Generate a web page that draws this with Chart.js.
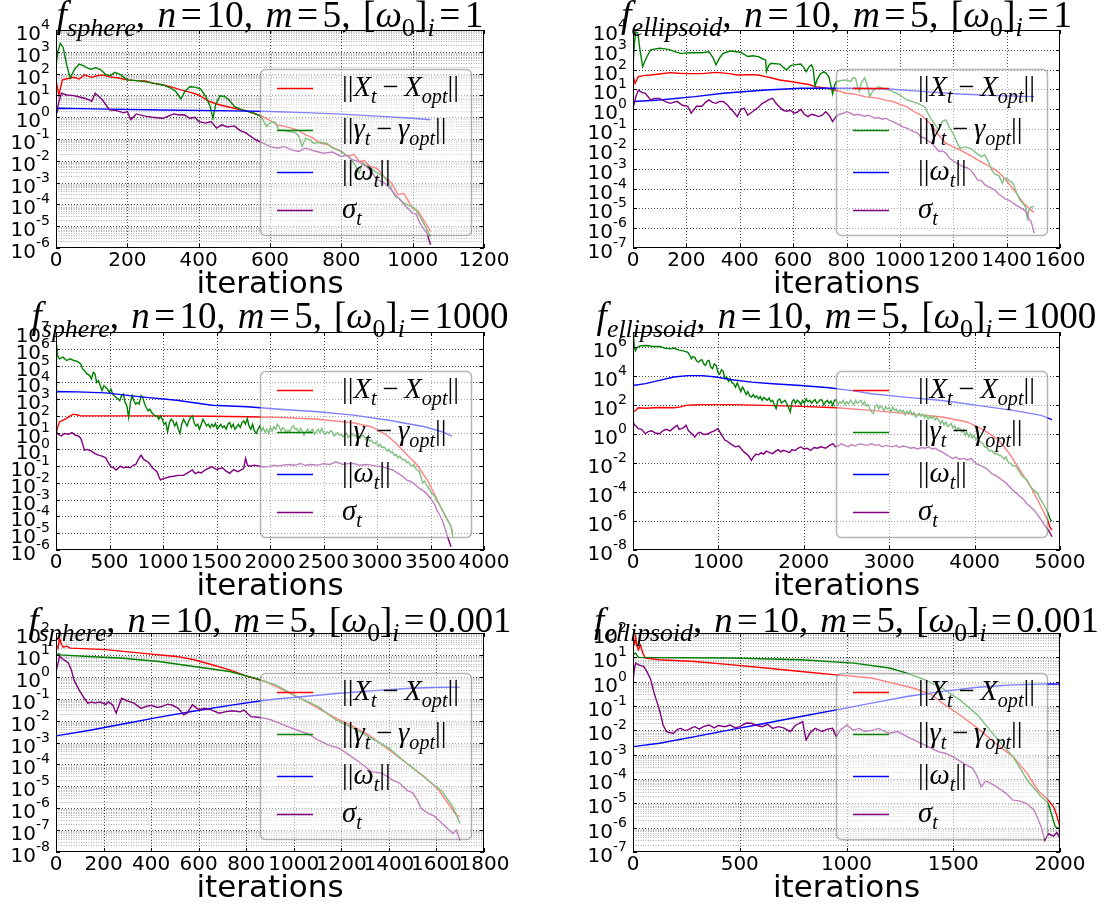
<!DOCTYPE html>
<html><head><meta charset="utf-8">
<script src="https://cdn.jsdelivr.net/npm/chart.js"></script>
<style>
html,body{margin:0;padding:0;background:#fff;}
#wrap{position:relative;width:1108px;height:906px;overflow:hidden;background:#fff;}
canvas{position:absolute;left:0;top:0;}
</style></head>
<body><div id="wrap"></div>
<script>
// ---------- DATA: [iteration, log10(value)] ----------
// Panel 1: f_sphere, w0=1
const p1X=[[0,1.71],[8,1.02],[18,1.71],[50,1.83],[65,1.75],[80,1.94],[100,1.83],[115,1.9],[130,1.94],[150,1.85],[175,1.8],[200,1.71],[225,1.68],[250,1.66],[275,1.55],[300,1.48],[325,1.38],[350,1.25],[375,1.15],[400,1.02],[430,0.72],[460,0.56],[500,0.41],[540,0.26],[580,0.03],[600,-0.15],[620,-0.35],[640,-0.42],[660,-0.5],[680,-0.6],[700,-0.81],[720,-0.95],[740,-1.19],[760,-1.25],[780,-1.42],[800,-1.55],[820,-1.8],[835,-1.7],[850,-2.03],[865,-2.0],[880,-2.26],[900,-2.35],[920,-2.72],[940,-3.0],[960,-3.56],[975,-3.5],[990,-3.9],[1000,-4.17],[1015,-4.3],[1030,-4.7],[1050,-5.24]];
const p1G=[[0,2.32],[5,3.0],[12,3.39],[20,3.2],[30,2.4],[40,1.79],[52,2.2],[65,2.44],[78,2.35],[90,2.24],[100,2.2],[110,2.27],[125,2.18],[140,1.95],[152,1.9],[165,2.06],[180,1.95],[200,1.71],[225,1.68],[250,1.63],[275,1.55],[300,1.48],[320,1.35],[335,1.2],[350,0.84],[362,1.2],[375,1.4],[390,1.38],[405,1.3],[420,0.95],[432,0.5],[440,-0.05],[448,0.6],[460,0.98],[472,0.95],[485,0.8],[500,0.49],[520,0.35],[540,0.26],[560,0.15],[575,0.03],[590,-0.43],[605,-0.2],[615,-0.25],[625,-0.58],[640,-0.6],[655,-0.66],[670,-0.7],[680,-0.85],[690,-1.34],[700,-0.96],[712,-1.05],[722,-1.19],[740,-1.15],[760,-1.2],[775,-1.42],[790,-1.5],[805,-1.65],[820,-1.8],[835,-2.1],[850,-2.56],[860,-2.1],[880,-2.3],[900,-2.55],[920,-2.72],[935,-3.1],[950,-3.63],[960,-3.7],[975,-3.94],[990,-4.05],[1005,-4.17],[1020,-4.55],[1035,-5.0],[1050,-5.47]];
const p1W=[[0,0.1],[6,0.41],[100,0.38],[300,0.33],[500,0.29],[600,0.26],[700,0.21],[800,0.14],[900,0.05],[1000,-0.05],[1050,-0.12]];
const p1S=[[0,0.1],[8,0.7],[15,1.1],[30,1.02],[45,1.0],[60,0.95],[80,0.87],[95,0.78],[100,0.72],[110,1.1],[120,0.95],[130,0.8],[150,0.34],[170,0.3],[190,0.2],[200,0.26],[210,-0.12],[225,0.15],[250,0.05],[270,0.0],[300,-0.05],[315,0.05],[330,0.15],[345,0.1],[360,0.11],[375,-0.05],[390,0.0],[400,-0.2],[420,-0.27],[435,-0.2],[450,-0.5],[465,-0.35],[480,-0.45],[500,-0.4],[515,-0.6],[530,-0.7],[560,-1.04],[580,-1.19],[600,-1.34],[620,-1.42],[640,-1.34],[660,-1.5],[680,-1.57],[700,-1.42],[725,-1.55],[750,-1.65],[775,-1.6],[800,-1.8],[815,-1.75],[830,-1.95],[850,-2.05],[870,-2.26],[885,-2.5],[900,-2.87],[920,-3.0],[940,-3.33],[960,-3.7],[980,-4.09],[1000,-4.4],[1010,-4.45],[1020,-4.85],[1030,-5.1],[1040,-5.31],[1050,-5.85]];
// Panel 2: f_ellipsoid, w0=1
const p2X=[[0,1.73],[8,1.3],[20,1.65],[40,1.7],[66,1.73],[99,1.78],[139,1.85],[170,1.82],[205,1.8],[258,1.8],[300,1.85],[325,1.85],[360,1.8],[391,1.73],[430,1.75],[470,1.73],[497,1.65],[520,1.58],[550,1.48],[590,1.4],[629,1.31],[660,1.25],[682,1.14],[720,1.08],[748,1.0],[775,0.9],[801,0.81],[835,0.75],[868,0.64],[895,0.6],[920,0.55],[950,0.45],[974,0.39],[1000,0.25],[1026,0.13],[1050,-0.1],[1079,-0.29],[1100,-0.55],[1119,-0.79],[1145,-1.3],[1172,-1.71],[1200,-1.9],[1225,-2.05],[1260,-2.3],[1291,-2.55],[1325,-2.8],[1358,-3.06],[1380,-3.3],[1397,-3.56],[1420,-3.95],[1437,-4.24],[1450,-4.5],[1464,-4.74],[1480,-4.95],[1490,-5.08],[1503,-5.2]];
const p2G=[[0,2.15],[5,3.3],[10,3.9],[18,3.85],[25,3.1],[36,2.15],[50,2.6],[66,3.0],[100,3.08],[120,3.05],[139,3.0],[160,2.9],[179,2.82],[220,2.85],[258,2.85],[285,2.9],[300,2.6],[311,2.24],[325,2.6],[338,2.82],[364,2.94],[404,2.88],[430,2.66],[450,2.7],[470,2.66],[485,2.55],[497,2.49],[500,1.9],[508,2.2],[517,2.32],[550,2.28],[565,2.1],[576,1.98],[590,2.2],[603,2.24],[629,2.28],[640,2.1],[649,1.9],[660,2.15],[669,2.24],[675,2.05],[682,1.18],[690,1.5],[702,1.78],[715,1.9],[725,1.8],[735,1.6],[748,0.77],[755,1.2],[762,1.39],[780,1.45],[801,1.48],[815,1.4],[825,1.6],[834,1.56],[842,1.1],[848,0.9],[855,1.3],[868,1.6],[878,1.2],[887,0.64],[900,0.95],[920,1.14],[940,1.05],[960,0.97],[980,0.85],[1000,0.72],[1026,0.47],[1045,0.4],[1066,0.3],[1093,0.13],[1105,-0.2],[1119,-0.54],[1133,-0.8],[1146,-1.04],[1160,-0.6],[1172,-0.54],[1185,-0.9],[1199,-1.21],[1212,-1.6],[1225,-1.97],[1245,-1.9],[1265,-1.97],[1285,-2.2],[1305,-2.39],[1318,-2.3],[1330,-2.6],[1344,-3.06],[1358,-3.3],[1371,-3.35],[1384,-3.73],[1390,-3.5],[1397,-3.48],[1410,-3.6],[1424,-3.73],[1437,-4.2],[1450,-4.57],[1460,-4.75],[1470,-4.9],[1477,-5.5],[1483,-5.1],[1490,-4.95],[1503,-4.9]];
const p2W=[[0,0.39],[99,0.47],[232,0.64],[338,0.81],[497,0.97],[629,1.06],[735,1.06],[828,1.06],[960,1.02],[1093,0.89],[1225,0.77],[1358,0.69],[1503,0.64]];
const p2S=[[0,0.05],[10,0.6],[20,0.97],[33,0.85],[46,0.8],[66,0.47],[80,0.55],[99,0.55],[120,0.4],[139,0.3],[165,0.4],[185,0.2],[205,0.15],[218,-0.2],[238,0.15],[258,0.15],[272,0.35],[285,0.47],[298,0.35],[311,0.3],[325,0.4],[338,0.39],[355,0.2],[364,0.05],[378,-0.15],[391,-0.37],[404,0.0],[417,0.05],[430,-0.3],[445,-0.15],[470,0.1],[485,0.3],[497,0.39],[510,0.5],[523,0.55],[536,0.3],[550,0.1],[563,-0.05],[576,-0.1],[590,-0.05],[603,-0.2],[615,-0.15],[629,0.0],[642,-0.25],[656,-0.37],[669,-0.25],[682,-0.3],[695,-0.37],[709,-0.3],[722,-0.12],[735,-0.3],[748,-0.62],[762,-0.35],[775,-0.25],[788,-0.2],[801,-0.12],[815,-0.2],[828,-0.3],[841,-0.25],[855,-0.3],[868,-0.35],[881,-0.3],[894,-0.37],[907,-0.45],[920,-0.42],[934,-0.5],[947,-0.45],[960,-0.55],[974,-0.62],[987,-0.71],[1000,-0.8],[1013,-0.9],[1026,-0.95],[1040,-1.05],[1053,-1.13],[1066,-1.2],[1079,-1.4],[1093,-1.45],[1106,-1.6],[1119,-1.71],[1132,-1.9],[1146,-2.13],[1159,-2.1],[1172,-2.2],[1185,-2.45],[1199,-2.6],[1212,-2.72],[1225,-2.8],[1238,-2.9],[1252,-2.95],[1265,-3.06],[1278,-3.3],[1291,-3.56],[1305,-3.6],[1318,-3.8],[1331,-3.9],[1344,-3.98],[1358,-4.1],[1371,-4.3],[1384,-4.4],[1397,-4.55],[1411,-4.6],[1424,-4.74],[1437,-4.85],[1450,-4.95],[1464,-5.08],[1477,-5.2],[1484,-5.58],[1490,-5.6],[1497,-5.9],[1503,-6.25]];
// Panel 3: f_sphere, w0=1000
const p3X=[[0,0.95],[15,1.3],[33,1.64],[66,1.75],[99,1.85],[132,2.0],[165,2.1],[199,2.05],[232,2.0],[600,2.0],[1000,2.0],[1457,1.98],[1788,1.95],[2119,1.9],[2450,1.8],[2781,1.58],[2947,1.35],[3079,0.9],[3180,0.35],[3278,-0.3],[3377,-0.95],[3477,-1.9],[3543,-2.75],[3600,-3.5],[3650,-4.1],[3692,-4.6],[3709,-5.0]];
const p3G=[[0,0.0],[3,5.0],[6,6.3],[15,5.6],[33,5.4],[66,5.5],[99,5.3],[132,5.4],[166,5.3],[199,5.25],[232,5.1],[248,4.8],[265,4.7],[290,4.5],[315,4.4],[331,4.2],[348,4.6],[364,4.5],[380,4.0],[397,4.1],[414,3.8],[430,3.5],[447,3.8],[464,3.7],[480,3.6],[497,3.4],[513,3.6],[530,3.3],[546,3.2],[563,3.1],[580,3.0],[596,2.9],[612,3.2],[629,3.3],[646,2.8],[662,2.6],[679,1.9],[695,2.8],[712,3.2],[728,2.9],[745,2.7],[762,2.8],[778,2.7],[795,3.2],[811,3.1],[828,2.7],[844,2.5],[861,2.3],[877,2.4],[894,2.2],[910,2.1],[927,2.0],[944,2.0],[960,1.8],[977,2.0],[993,1.8],[1010,1.5],[1026,1.6],[1043,1.05],[1060,1.6],[1076,1.8],[1093,1.7],[1109,1.4],[1126,1.6],[1143,1.2],[1159,0.95],[1175,1.5],[1192,1.8],[1209,1.6],[1225,1.4],[1242,1.7],[1258,1.9],[1275,2.0],[1291,1.6],[1308,1.4],[1325,1.5],[1341,1.2],[1358,1.5],[1374,1.8],[1391,1.6],[1407,1.4],[1424,1.5],[1440,1.3],[1457,1.5],[1474,1.35],[1490,1.55],[1507,1.2],[1523,1.35],[1540,1.5],[1556,1.3],[1573,1.4],[1590,1.2],[1606,1.5],[1623,1.6],[1639,1.3],[1656,1.5],[1672,1.2],[1689,1.35],[1705,1.5],[1722,1.3],[1738,1.6],[1755,1.7],[1771,1.5],[1788,1.84],[1804,1.4],[1821,1.2],[1838,1.5],[1854,1.1],[1871,0.95],[1888,1.2],[1904,1.4],[1921,1.1],[1937,1.3],[1954,1.0],[1970,1.2],[1987,0.95],[2003,1.3],[2020,1.1],[2036,1.35],[2053,1.2],[2070,1.5],[2086,1.35],[2103,1.1],[2119,1.3],[2136,1.2],[2152,1.0],[2169,1.15],[2185,1.05],[2202,1.3],[2218,1.4],[2235,1.2],[2251,1.25],[2268,1.0],[2285,1.25],[2301,1.1],[2318,0.85],[2334,1.05],[2351,1.2],[2367,1.0],[2384,1.1],[2400,1.2],[2417,0.9],[2433,1.05],[2450,1.2],[2466,1.0],[2483,1.25],[2500,1.0],[2516,0.9],[2533,1.05],[2549,0.95],[2566,1.1],[2583,1.05],[2599,0.8],[2616,0.9],[2632,1.0],[2649,0.85],[2665,0.9],[2682,0.75],[2698,0.9],[2715,0.95],[2731,0.7],[2748,0.85],[2765,0.95],[2781,0.8],[2798,0.85],[2814,0.65],[2831,0.8],[2847,0.7],[2864,0.85],[2881,0.75],[2897,0.6],[2914,0.7],[2930,0.5],[2947,0.55],[2963,0.4],[2980,0.35],[2996,0.45],[3013,0.2],[3029,0.3],[3046,0.1],[3063,0.15],[3079,0.05],[3096,-0.1],[3112,0.0],[3129,-0.2],[3146,-0.15],[3162,-0.35],[3179,-0.3],[3195,-0.5],[3212,-0.4],[3228,-0.55],[3245,-0.64],[3261,-0.6],[3278,-0.8],[3294,-0.75],[3311,-0.9],[3328,-1.0],[3344,-0.9],[3361,-1.15],[3377,-1.23],[3394,-1.3],[3410,-1.6],[3427,-2.0],[3443,-1.9],[3460,-2.1],[3477,-2.23],[3493,-2.4],[3510,-2.6],[3526,-2.7],[3543,-2.82],[3560,-3.1],[3576,-3.2],[3593,-3.42],[3609,-3.6],[3626,-3.8],[3642,-4.0],[3659,-4.2],[3675,-4.4],[3692,-4.6],[3709,-5.2]];
const p3W=[[0,3.43],[5,3.45],[199,3.43],[464,3.37],[795,3.13],[1126,2.93],[1457,2.63],[1788,2.54],[2119,2.38],[2450,2.24],[2781,2.04],[3113,1.74],[3444,1.35],[3609,1.05],[3702,0.79]];
const p3S=[[0,1.05],[20,0.9],[50,0.8],[80,0.95],[116,0.9],[150,1.0],[180,0.85],[210,0.8],[232,0.65],[250,0.3],[265,-0.04],[290,0.0],[331,-0.1],[364,-0.25],[397,-0.34],[430,-0.4],[464,-0.5],[490,-0.8],[513,-1.03],[540,-1.1],[563,-1.23],[600,-1.0],[630,-1.1],[660,-1.05],[695,-1.1],[720,-0.95],[745,-0.9],[770,-0.6],[795,-0.34],[820,-0.6],[845,-0.7],[861,-0.75],[880,-0.9],[900,-1.1],[920,-1.2],[944,-1.33],[960,-1.6],[977,-1.83],[1000,-1.75],[1030,-1.7],[1060,-1.63],[1100,-1.6],[1140,-1.55],[1192,-1.55],[1230,-1.4],[1275,-1.23],[1300,-1.45],[1330,-1.35],[1358,-1.4],[1400,-1.2],[1457,-1.03],[1500,-1.2],[1556,-1.1],[1590,-1.3],[1623,-1.43],[1660,-1.2],[1700,-1.33],[1722,-1.25],[1755,-1.13],[1765,-0.75],[1772,-0.54],[1790,-0.95],[1820,-1.0],[1854,-0.94],[1900,-1.0],[1940,-1.05],[1987,-1.03],[2040,-0.95],[2080,-1.0],[2119,-0.94],[2180,-0.9],[2230,-0.95],[2285,-0.84],[2330,-0.95],[2380,-0.9],[2450,-0.94],[2500,-0.85],[2560,-0.9],[2616,-0.74],[2680,-0.9],[2730,-0.85],[2781,-0.84],[2840,-0.95],[2900,-0.9],[2947,-0.94],[3000,-1.0],[3046,-1.03],[3100,-1.15],[3146,-1.23],[3200,-1.45],[3240,-1.6],[3278,-1.83],[3310,-1.9],[3344,-2.03],[3390,-2.3],[3444,-2.52],[3480,-2.75],[3510,-3.02],[3540,-3.3],[3560,-3.62],[3585,-3.9],[3609,-4.21],[3630,-4.6],[3649,-5.0],[3670,-5.4],[3692,-5.8]];
// Panel 4: f_ellipsoid, w0=1000
const p4X=[[0,1.49],[30,1.6],[62,1.79],[150,1.75],[300,1.8],[476,1.79],[560,1.85],[621,1.95],[700,1.98],[807,2.0],[1138,2.0],[1552,1.95],[1966,1.88],[2380,1.79],[2794,1.61],[3208,1.38],[3621,1.15],[3911,0.81],[4118,0.23],[4284,-0.45],[4408,-1.37],[4532,-2.51],[4657,-3.66],[4760,-4.8],[4863,-6.06],[4880,-6.4],[4905,-6.63]];
const p4G=[[0,1.5],[4,6.87],[15,6.0],[29,5.72],[45,5.9],[62,6.0],[100,6.05],[166,6.07],[230,6.0],[310,6.0],[370,5.9],[435,5.84],[480,5.9],[538,5.75],[590,5.7],[642,5.6],[665,5.4],[683,5.15],[700,5.3],[724,5.25],[745,5.0],[766,4.92],[790,5.05],[807,5.1],[830,4.8],[849,4.7],[870,5.0],[890,5.05],[910,4.6],[931,4.47],[952,4.8],[973,4.7],[995,4.2],[1014,4.1],[1035,4.4],[1055,4.3],[1076,3.8],[1097,3.9],[1118,3.6],[1138,3.8],[1160,3.5],[1180,3.44],[1200,3.2],[1221,3.5],[1242,3.2],[1262,2.9],[1283,3.2],[1304,2.98],[1325,2.7],[1345,2.9],[1366,2.6],[1387,2.52],[1408,2.7],[1428,2.5],[1449,2.6],[1470,2.4],[1490,2.55],[1511,2.3],[1532,2.5],[1552,2.4],[1573,2.3],[1594,2.45],[1614,2.2],[1635,2.3],[1656,2.0],[1676,1.72],[1697,2.3],[1718,2.4],[1738,2.1],[1759,2.2],[1780,2.3],[1800,2.1],[1821,1.8],[1842,1.5],[1862,2.2],[1883,2.35],[1904,2.1],[1925,2.3],[1945,2.2],[1966,2.0],[1987,2.3],[2007,2.1],[2028,2.4],[2049,2.2],[2070,2.3],[2090,2.1],[2111,2.25],[2132,2.35],[2152,2.1],[2173,2.2],[2194,2.35],[2214,2.3],[2235,2.0],[2256,2.2],[2276,2.3],[2297,2.1],[2318,2.25],[2339,1.95],[2359,2.3],[2380,2.35],[2401,2.0],[2421,2.2],[2442,2.1],[2463,2.3],[2483,2.0],[2504,2.2],[2525,2.05],[2545,2.3],[2566,2.15],[2587,2.0],[2607,2.3],[2628,2.1],[2649,2.2],[2670,2.3],[2690,2.0],[2711,2.2],[2732,1.9],[2752,2.0],[2773,1.7],[2794,1.5],[2815,1.38],[2835,1.9],[2856,2.0],[2877,1.7],[2897,1.9],[2918,1.8],[2939,1.6],[2959,1.85],[2980,1.7],[3001,1.8],[3021,1.5],[3042,1.84],[3063,1.6],[3083,1.7],[3104,1.45],[3125,1.65],[3145,1.5],[3166,1.6],[3187,1.3],[3208,1.55],[3228,1.4],[3249,1.6],[3270,1.3],[3290,1.45],[3311,1.15],[3332,1.26],[3352,1.4],[3373,1.2],[3394,1.35],[3414,1.1],[3435,1.3],[3456,1.0],[3476,1.2],[3497,1.05],[3518,1.2],[3538,0.95],[3559,1.1],[3580,0.92],[3600,0.7],[3621,0.9],[3642,0.6],[3663,0.8],[3683,0.5],[3704,0.58],[3725,0.7],[3745,0.4],[3766,0.55],[3787,0.2],[3807,0.4],[3829,0.35],[3850,0.1],[3870,0.3],[3891,-0.1],[3911,0.1],[3932,-0.2],[3953,0.0],[3973,-0.3],[3994,-0.1],[4015,-0.4],[4036,-0.22],[4056,-0.5],[4077,-0.6],[4098,-0.7],[4118,-0.91],[4139,-0.9],[4160,-1.1],[4180,-1.2],[4201,-1.15],[4222,-1.3],[4243,-1.4],[4263,-1.35],[4284,-1.5],[4305,-1.5],[4325,-1.6],[4346,-1.75],[4367,-1.6],[4387,-1.9],[4408,-2.0],[4429,-2.1],[4449,-2.2],[4470,-2.2],[4491,-2.28],[4511,-2.5],[4532,-2.7],[4553,-2.9],[4573,-3.0],[4594,-3.1],[4615,-3.2],[4636,-3.4],[4656,-3.6],[4677,-3.8],[4698,-3.9],[4718,-4.0],[4739,-4.11],[4760,-4.4],[4780,-4.6],[4801,-4.8],[4822,-5.0],[4843,-5.26],[4863,-5.5],[4880,-5.8],[4892,-5.95],[4905,-6.0]];
const p4W=[[0,3.32],[145,3.45],[310,3.67],[476,3.9],[642,4.0],[807,4.0],[973,3.9],[1138,3.73],[1387,3.55],[1635,3.44],[1966,3.32],[2297,3.16],[2587,2.95],[2794,2.75],[3208,2.5],[3621,2.29],[4036,1.95],[4449,1.61],[4781,1.26],[4905,0.97]];
const p4S=[[0,0.81],[20,0.6],[40,0.5],[62,0.35],[100,0.3],[145,0.0],[180,0.15],[220,0.2],[260,0.05],[310,0.0],[350,0.2],[390,0.3],[435,0.2],[476,0.4],[517,0.58],[540,0.3],[570,0.35],[600,0.45],[621,0.58],[650,0.2],[690,0.0],[724,-0.22],[760,0.05],[790,0.1],[807,0.0],[840,-0.05],[880,0.0],[910,0.1],[952,0.2],[993,0.35],[1020,0.1],[1050,-0.2],[1076,-0.45],[1100,-0.5],[1138,-0.68],[1170,-0.8],[1200,-0.9],[1240,-0.85],[1262,-1.0],[1290,-1.2],[1324,-1.37],[1350,-1.5],[1387,-1.83],[1410,-1.6],[1440,-1.4],[1469,-1.45],[1500,-1.3],[1530,-1.4],[1560,-1.2],[1600,-1.3],[1635,-1.37],[1670,-1.2],[1700,-1.1],[1730,-1.25],[1759,-1.14],[1790,-1.2],[1830,-1.3],[1860,-1.1],[1900,-1.15],[1930,-1.0],[1966,-0.91],[2000,-1.05],[2040,-1.0],[2080,-1.15],[2120,-0.95],[2160,-1.0],[2200,-0.9],[2256,-1.0],[2290,-0.85],[2339,-0.68],[2370,-0.9],[2400,-0.85],[2440,-0.7],[2480,-0.8],[2520,-0.9],[2560,-0.75],[2600,-0.85],[2650,-0.7],[2700,-0.75],[2750,-0.8],[2794,-0.68],[2840,-0.8],[2880,-0.75],[2920,-0.9],[2960,-0.8],[3000,-0.85],[3040,-0.9],[3080,-0.8],[3120,-0.95],[3160,-0.85],[3208,-0.9],[3250,-1.0],[3290,-0.95],[3330,-1.05],[3380,-0.95],[3420,-1.0],[3460,-0.9],[3500,-1.05],[3539,-1.0],[3580,-1.15],[3621,-1.25],[3660,-1.4],[3700,-1.55],[3746,-1.71],[3780,-1.6],[3820,-1.75],[3870,-1.7],[3920,-1.8],[3960,-1.7],[3994,-1.94],[4030,-2.1],[4070,-2.2],[4110,-2.3],[4150,-2.45],[4201,-2.74],[4240,-2.85],[4280,-3.0],[4325,-3.2],[4370,-3.4],[4410,-3.65],[4449,-3.89],[4490,-4.1],[4530,-4.3],[4574,-4.52],[4610,-4.8],[4650,-5.0],[4698,-5.26],[4740,-5.6],[4781,-5.95],[4820,-6.3],[4863,-6.63],[4890,-6.9],[4905,-7.09]];
// Panel 5: f_sphere, w0=0.001
const p5X=[[0,1.47],[8,1.3],[15,1.77],[22,1.5],[30,1.35],[45,1.4],[60,1.31],[209,1.24],[358,1.08],[507,0.93],[581,0.78],[656,0.55],[730,0.32],[805,0.02],[879,-0.21],[954,-0.6],[1028,-0.98],[1103,-1.44],[1177,-1.89],[1252,-2.27],[1326,-2.73],[1401,-3.34],[1475,-3.95],[1550,-4.56],[1610,-5.18],[1654,-5.86],[1684,-6.32],[1699,-6.37]];
const p5G=[[0,1.0],[10,1.05],[20,1.0],[134,0.93],[283,0.85],[432,0.7],[581,0.47],[730,0.24],[835,-0.06],[924,-0.37],[1013,-0.9],[1103,-1.36],[1177,-1.97],[1252,-2.35],[1326,-2.8],[1401,-3.27],[1475,-3.95],[1550,-4.6],[1625,-5.25],[1669,-5.94],[1699,-6.7]];
const p5W=[[0,-2.7],[149,-2.43],[298,-2.12],[447,-1.82],[596,-1.54],[745,-1.28],[894,-1.05],[1043,-0.9],[1192,-0.75],[1341,-0.63],[1490,-0.52],[1580,-0.49],[1699,-0.47]];
const p5S=[[0,0.24],[8,0.6],[15,0.93],[30,0.8],[52,0.63],[65,0.3],[75,-0.14],[97,-0.6],[119,-0.98],[134,-1.2],[150,-1.15],[164,-1.2],[185,-1.15],[209,-1.26],[220,-1.15],[238,-1.28],[253,-1.66],[265,-1.3],[276,-0.98],[300,-1.1],[328,-1.2],[358,-1.44],[380,-1.35],[402,-1.3],[425,-1.4],[447,-1.35],[470,-1.25],[490,-1.3],[514,-1.44],[537,-1.74],[552,-1.65],[574,-1.28],[600,-1.5],[626,-1.44],[650,-1.5],[686,-1.66],[710,-1.6],[740,-1.55],[775,-1.6],[790,-1.52],[820,-1.82],[850,-1.85],[879,-1.9],[900,-1.95],[924,-2.05],[970,-2.25],[1013,-2.43],[1058,-2.6],[1103,-2.89],[1147,-3.12],[1192,-3.27],[1237,-3.6],[1282,-3.95],[1326,-4.33],[1371,-4.4],[1416,-4.72],[1445,-4.85],[1475,-5.18],[1500,-5.3],[1520,-5.63],[1535,-6.0],[1565,-6.24],[1590,-6.35],[1610,-6.55],[1640,-6.86],[1669,-7.16],[1684,-7.0],[1699,-7.47]];
// Panel 6: f_ellipsoid, w0=0.001
const p6X=[[0,1.73],[8,1.55],[12,1.87],[18,1.5],[25,1.31],[35,1.5],[45,1.2],[58,0.97],[124,0.9],[290,0.83],[455,0.7],[621,0.56],[786,0.42],[952,0.28],[1118,0.15],[1217,-0.06],[1316,-0.27],[1399,-0.54],[1449,-0.88],[1531,-1.37],[1614,-1.91],[1697,-2.53],[1780,-3.08],[1846,-3.77],[1896,-4.46],[1945,-4.87],[1970,-5.14],[1985,-5.5],[2000,-5.97]];
const p6G=[[0,1.1],[12,1.18],[25,1.0],[124,0.99],[455,0.97],[786,0.9],[1035,0.76],[1201,0.56],[1283,0.35],[1366,0.08],[1449,-0.27],[1531,-0.75],[1614,-1.37],[1697,-2.26],[1780,-3.08],[1846,-4.04],[1912,-4.73],[1945,-5.0],[1978,-5.97],[2000,-6.04]];
const p6W=[[0,-2.67],[124,-2.53],[290,-2.26],[455,-1.98],[621,-1.71],[786,-1.43],[952,-1.16],[1118,-0.88],[1283,-0.61],[1449,-0.4],[1614,-0.23],[1780,-0.13],[1945,-0.09],[2000,-0.1]];
const p6S=[[0,0.0],[6,0.5],[12,0.76],[25,0.7],[40,0.65],[50,0.63],[66,0.4],[83,0.08],[99,-0.47],[124,-1.16],[141,-1.78],[157,-2.05],[175,-2.1],[190,-2.12],[210,-1.95],[224,-1.92],[240,-2.0],[257,-1.98],[275,-1.9],[290,-1.85],[310,-1.95],[330,-1.85],[356,-1.78],[380,-1.9],[400,-1.8],[430,-1.85],[455,-1.78],[480,-1.9],[500,-1.85],[530,-1.7],[555,-1.71],[580,-1.8],[605,-1.85],[630,-1.75],[654,-1.92],[680,-1.85],[705,-1.9],[737,-2.05],[760,-1.8],[795,-1.64],[802,-2.0],[811,-2.4],[830,-2.1],[853,-1.92],[886,-2.05],[910,-1.95],[935,-1.92],[952,-2.26],[970,-2.0],[1002,-1.78],[1030,-2.0],[1060,-1.92],[1084,-2.05],[1120,-2.0],[1151,-1.92],[1180,-2.05],[1200,-2.12],[1240,-2.05],[1283,-2.26],[1330,-2.45],[1382,-2.67],[1432,-2.88],[1465,-2.95],[1498,-3.08],[1520,-3.2],[1548,-3.36],[1590,-3.55],[1610,-3.85],[1631,-4.32],[1650,-4.1],[1664,-4.12],[1700,-4.3],[1747,-4.59],[1780,-4.87],[1810,-4.9],[1846,-5.02],[1879,-5.28],[1895,-5.6],[1912,-5.97],[1929,-6.52],[1945,-6.25],[1970,-6.35],[1985,-6.2],[2000,-6.45]];

// tick values
const p1XTicks=[0,200,400,600,800,1000,1200], p1YTicks=[-6,-5,-4,-3,-2,-1,0,1,2,3,4];
const p2XTicks=[0,200,400,600,800,1000,1200,1400,1600], p2YTicks=[-7,-6,-5,-4,-3,-2,-1,0,1,2,3,4];
const p3XTicks=[0,500,1000,1500,2000,2500,3000,3500,4000], p3YTicks=[-6,-5,-4,-3,-2,-1,0,1,2,3,4,5,6,7];
const p4XTicks=[0,1000,2000,3000,4000,5000], p4YTicks=[-8,-6,-4,-2,0,2,4,6];
const p5XTicks=[0,200,400,600,800,1000,1200,1400,1600,1800], p5YTicks=[-8,-7,-6,-5,-4,-3,-2,-1,0,1,2];
const p6XTicks=[0,500,1000,1500,2000], p6YTicks=[-7,-6,-5,-4,-3,-2,-1,0,1,2];

// ---------- STYLE / LAYOUT ----------
const COLORS=['#ff0000','#008000','#0000ff','#800080'];
const panels=[
 {rect:[56,30,484,248],xMax:1200,yMin:-6,yMax:4,xT:p1XTicks,yT:p1YTicks,minor:true,f:'sphere',w0:'1',tw:427,ty:27,s:[p1X,p1G,p1W,p1S]},
 {rect:[633,30,1060,248],xMax:1600,yMin:-7,yMax:4,xT:p2XTicks,yT:p2YTicks,minor:false,f:'ellipsoid',w0:'1',tw:451,ty:27,s:[p2X,p2G,p2W,p2S]},
 {rect:[56,332,484,550],xMax:4000,yMin:-6,yMax:7,xT:p3XTicks,yT:p3YTicks,minor:false,f:'sphere',w0:'1000',tw:477,ty:328,s:[p3X,p3G,p3W,p3S]},
 {rect:[633,332,1060,550],xMax:5000,yMin:-8,yMax:7,xT:p4XTicks,yT:p4YTicks,minor:false,f:'ellipsoid',w0:'1000',tw:500,ty:328,s:[p4X,p4G,p4W,p4S]},
 {rect:[56,633,484,852],xMax:1800,yMin:-8,yMax:2,xT:p5XTicks,yT:p5YTicks,minor:true,f:'sphere',w0:'0.001',tw:483,ty:632,s:[p5X,p5G,p5W,p5S]},
 {rect:[633,633,1060,852],xMax:2000,yMin:-7,yMax:2,xT:p6XTicks,yT:p6YTicks,minor:true,f:'ellipsoid',w0:'0.001',tw:505,ty:632,s:[p6X,p6G,p6W,p6S]}
];
const CW=1108, CH=906;
const SERIF='"Liberation Serif","DejaVu Serif",serif';
const SANS='"DejaVu Sans",sans-serif';

function richWidth(ctx,parts,size){
  let w=0;
  for(const p of parts){
    if(p.gap!==undefined){w+=p.gap*size;continue;}
    const sz=p.sub?size*0.7:size;
    ctx.font=(p.i?'italic ':'')+sz+'px '+SERIF;
    w+=ctx.measureText(p.t).width;
  }
  return w;
}
function drawRich(ctx,parts,x,y,size){
  let cx=x;
  for(const p of parts){
    if(p.gap!==undefined){cx+=p.gap*size;continue;}
    const sz=p.sub?size*0.7:size;
    ctx.font=(p.i?'italic ':'')+sz+'px '+SERIF;
    ctx.fillText(p.t,cx,y+(p.sub?size*0.25:0));
    cx+=ctx.measureText(p.t).width;
  }
}
function titleParts(f,w0){
  return [{t:'f',i:1},{t:f,i:1,sub:1},{t:','},{gap:0.33},{t:'n',i:1},{gap:0.12},{t:'='},{gap:0.12},{t:'10'},{t:','},{gap:0.33},{t:'m',i:1},{gap:0.12},{t:'='},{gap:0.12},{t:'5'},{t:','},{gap:0.33},{t:'['},{t:'ω',i:1},{t:'0',sub:1},{t:']'},{t:'i',i:1,sub:1},{gap:0.12},{t:'='},{gap:0.12},{t:w0}];
}
const LEG=[
 [{t:'||'},{t:'X',i:1},{t:'t',i:1,sub:1},{gap:0.2},{t:'−'},{gap:0.2},{t:'X',i:1},{t:'opt',i:1,sub:1},{t:'||'}],
 [{t:'||'},{t:'γ',i:1},{t:'t',i:1,sub:1},{gap:0.2},{t:'−'},{gap:0.2},{t:'γ',i:1},{t:'opt',i:1,sub:1},{t:'||'}],
 [{t:'||'},{t:'ω',i:1},{t:'t',i:1,sub:1},{t:'||'}],
 [{t:'σ',i:1},{t:'t',i:1,sub:1}]
];
const LEG_ROWS=[19,61,103,141];

function makePlugin(P){
  return {
    id:'panelDeco',
    beforeDatasetsDraw(chart){
      const ctx=chart.ctx, a=chart.chartArea, xs=chart.scales.x, ys=chart.scales.y;
      ctx.save();
      ctx.beginPath();ctx.rect(a.left,a.top,a.right-a.left,a.bottom-a.top);ctx.clip();
      ctx.lineWidth=1;
      if(P.minor){
        ctx.setLineDash([1,1.5]);ctx.strokeStyle='rgba(0,0,0,0.32)';
        for(let e=P.yMin;e<P.yMax;e++){
          for(let k=2;k<=9;k++){
            const y=Math.round(ys.getPixelForValue(k*Math.pow(10,e)))+0.5;
            ctx.beginPath();ctx.moveTo(a.left,y);ctx.lineTo(a.right,y);ctx.stroke();
          }
        }
      }
      ctx.setLineDash([1,2]);ctx.strokeStyle='rgba(0,0,0,0.7)';
      for(const e of P.yT){
        const y=Math.round(ys.getPixelForValue(Math.pow(10,e)))+0.5;
        ctx.beginPath();ctx.moveTo(a.left,y);ctx.lineTo(a.right,y);ctx.stroke();
      }
      for(const v of P.xT){
        const x=Math.round(xs.getPixelForValue(v))+0.5;
        ctx.beginPath();ctx.moveTo(x,a.top);ctx.lineTo(x,a.bottom);ctx.stroke();
      }
      ctx.restore();
    },
    afterDatasetsDraw(chart){
      const ctx=chart.ctx, a=chart.chartArea, xs=chart.scales.x, ys=chart.scales.y;
      ctx.save();
      // legend
      const bw=211,bh=166,bx=a.right-13-bw,by=a.bottom-13-bh;
      ctx.beginPath();
      if(ctx.roundRect) ctx.roundRect(bx+0.5,by+0.5,bw,bh,5); else ctx.rect(bx+0.5,by+0.5,bw,bh);
      ctx.fillStyle='rgba(255,255,255,0.5)';ctx.fill();
      ctx.strokeStyle='rgba(120,120,120,0.55)';ctx.lineWidth=1.5;ctx.stroke();
      // legend font size scaled to reference width of first label
      const base=22, lsz=base*117/richWidth(ctx,LEG[0],base);
      ctx.fillStyle='#000';ctx.textAlign='left';ctx.textBaseline='alphabetic';
      for(let i=0;i<4;i++){
        const ry=by+LEG_ROWS[i];
        ctx.strokeStyle=COLORS[i];ctx.lineWidth=1.6;
        ctx.beginPath();ctx.moveTo(bx+17,ry+0.5);ctx.lineTo(bx+53,ry+0.5);ctx.stroke();
        ctx.fillStyle='#000';
        drawRich(ctx,LEG[i],bx+82,ry+8,lsz);
      }
      // spines
      ctx.strokeStyle='#000';ctx.lineWidth=1;
      ctx.strokeRect(Math.round(a.left)+0.5,Math.round(a.top)+0.5,Math.round(a.right-a.left)-1,Math.round(a.bottom-a.top)-1);
      // ticks (inward)
      ctx.beginPath();
      for(const v of P.xT){
        const x=Math.round(xs.getPixelForValue(v))+0.5;
        ctx.moveTo(x,a.bottom);ctx.lineTo(x,a.bottom-4);ctx.moveTo(x,a.top);ctx.lineTo(x,a.top+4);
      }
      for(const e of P.yT){
        const y=Math.round(ys.getPixelForValue(Math.pow(10,e)))+0.5;
        ctx.moveTo(a.left,y);ctx.lineTo(a.left+4,y);ctx.moveTo(a.right,y);ctx.lineTo(a.right-4,y);
      }
      ctx.stroke();
      // y tick labels
      ctx.fillStyle='#000';ctx.textAlign='right';
      for(const e of P.yT){
        const y=ys.getPixelForValue(Math.pow(10,e));
        const es=String(e);
        ctx.font='14px '+SANS;const we=ctx.measureText(es).width;
        ctx.fillText(es,a.left-6,y-1);
        ctx.font='20px '+SANS;ctx.fillText('10',a.left-6-we,y+10);
      }
      // x tick labels
      ctx.textAlign='center';ctx.font='20px '+SANS;
      for(const v of P.xT){
        ctx.fillText(String(v),xs.getPixelForValue(v),a.bottom+18);
      }
      ctx.font='31px '+SANS;
      ctx.fillText('iterations',(a.left+a.right)/2,a.bottom+45);
      // title
      ctx.textAlign='left';
      const tp=titleParts(P.f,P.w0);
      const tsz=28*P.tw/richWidth(ctx,tp,28);
      const tw=richWidth(ctx,tp,tsz);
      drawRich(ctx,tp,(a.left+a.right)/2-tw/2,P.ty,tsz);
      ctx.restore();
    }
  };
}

const wrap=document.getElementById('wrap');
panels.forEach(P=>{
  const c=document.createElement('canvas');
  c.width=CW;c.height=CH;c.style.width=CW+'px';c.style.height=CH+'px';
  wrap.appendChild(c);
  const [L,T,R,B]=P.rect;
  const names=['X','gamma','omega','sigma'];
  const ds=[3,2,1,0].map(i=>({
    label:names[i],
    data:P.s[i].map(p=>({x:p[0],y:Math.pow(10,p[1])})),
    borderColor:COLORS[i],borderWidth:1.4,pointRadius:0,tension:0,fill:false
  }));
  new Chart(c,{
    type:'line',
    data:{datasets:ds},
    options:{
      responsive:false,animation:false,devicePixelRatio:1,events:[],
      layout:{padding:{left:L,top:T,right:CW-R,bottom:CH-B}},
      scales:{
        x:{type:'linear',min:0,max:P.xMax,display:false},
        y:{type:'logarithmic',min:Math.pow(10,P.yMin),max:Math.pow(10,P.yMax),display:false}
      },
      plugins:{legend:{display:false},tooltip:{enabled:false}}
    },
    plugins:[makePlugin(P)]
  });
});
</script>
</body></html>
